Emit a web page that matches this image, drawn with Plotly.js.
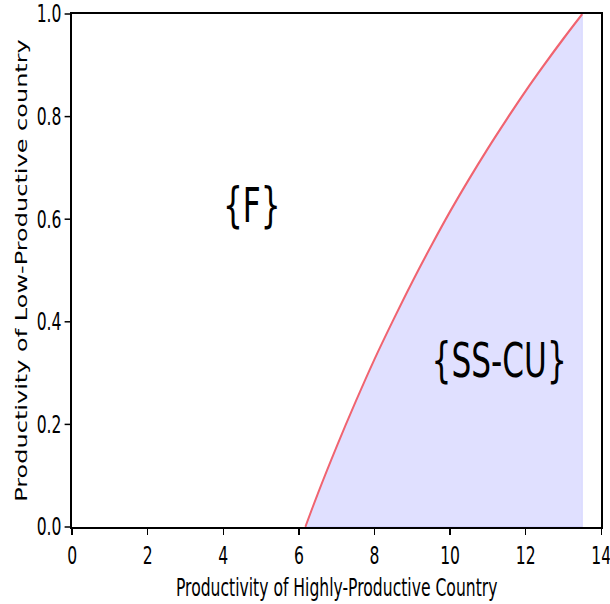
<!DOCTYPE html>
<html>
<head>
<meta charset="utf-8">
<script src="https://cdn.plot.ly/plotly-3.0.1.min.js"></script>
<style>
  html, body { margin: 0; padding: 0; overflow: hidden; background: #fff; }
  #wrap { width: 610px; height: 604px; overflow: hidden; position: relative; }
  #chart { width: 938px; height: 604px; transform: scaleX(0.65); transform-origin: 0 0; position: absolute; left: 0; top: 0; }
</style>
</head>
<body>
<div id="wrap"><div id="chart"></div></div>
<script>
// Boundary curve: productivity of highly-productive country (x) vs low-productive country (y)
const xHigh = [6.17, 6.5, 7, 7.5, 8, 8.5, 9, 9.5, 10, 10.5, 11, 11.5, 12, 12.5, 13, 13.5];
const yLow  = [0, 0.065, 0.157, 0.244, 0.327, 0.404, 0.478, 0.548, 0.615, 0.678, 0.738, 0.795, 0.850, 0.902, 0.952, 1.0];
// Right edge of the shaded region
const xRightEdge = 13.5;
// Region labels
const regionLabels = ['{F}', '{SS-CU}'];
const regionX = [4.76, 11.30];
const regionY = [0.628, 0.326];
const xTicks = [0, 2, 4, 6, 8, 10, 12, 14];
const yTicks = [0.0, 0.2, 0.4, 0.6, 0.8, 1.0];

const FONT = 'DejaVu Sans, sans-serif';

const fillX = xHigh.concat([xRightEdge, xHigh[0]]);
const fillY = yLow.concat([0, 0]);

const traces = [
  {
    x: fillX, y: fillY, type: 'scatter', mode: 'lines',
    fill: 'toself', fillcolor: 'rgba(0,0,255,0.12)',
    line: { color: 'rgba(0,0,255,0.12)', width: 1 },
    hoverinfo: 'skip', showlegend: false
  },
  {
    x: xHigh, y: yLow, type: 'scatter', mode: 'lines',
    line: { color: 'rgb(240,100,112)', width: 2.8, shape: 'spline', smoothing: 1 },
    showlegend: false
  }
];

const annotations = regionLabels.map((t, i) => ({
  x: regionX[i], y: regionY[i], xref: 'x', yref: 'y', text: t,
  showarrow: false, font: { family: FONT, size: 48, color: '#000' },
  xanchor: 'center', yanchor: 'middle'
}));

const layout = {
  width: 938, height: 604,
  margin: { l: 111, r: 13, t: 14, b: 77 },
  paper_bgcolor: '#fff', plot_bgcolor: '#fff',
  showlegend: false,
  font: { family: FONT, color: '#000' },
  xaxis: {
    range: [0, 14], tickvals: xTicks, ticktext: xTicks.map(String),
    ticks: 'outside', ticklen: 6, tickwidth: 2.3, tickcolor: '#000',
    showline: true, linecolor: '#000', linewidth: 2, mirror: true,
    showgrid: false, zeroline: false, ticklabeloverflow: 'allow',
    tickfont: { family: FONT, size: 24, color: '#000' },
    title: { text: 'Productivity of Highly-Productive Country', font: { family: FONT, size: 24, color: '#000' }, standoff: 10 },
    automargin: false
  },
  yaxis: {
    range: [0, 1], tickvals: yTicks, ticktext: yTicks.map(v => v.toFixed(1)),
    ticks: 'outside', ticklen: 9, tickwidth: 1.5, tickcolor: '#000',
    showline: true, linecolor: '#000', linewidth: 2.6, mirror: true,
    showgrid: false, zeroline: false, ticklabeloverflow: 'allow',
    tickfont: { family: FONT, size: 24, color: '#000' },
    title: { text: 'Productivity of Low-Productive country', font: { family: FONT, size: 24, color: '#000' }, standoff: 8 },
    automargin: false
  },
  annotations: annotations
};

Plotly.newPlot('chart', traces, layout, { staticPlot: true, displayModeBar: false });
</script>
</body>
</html>
